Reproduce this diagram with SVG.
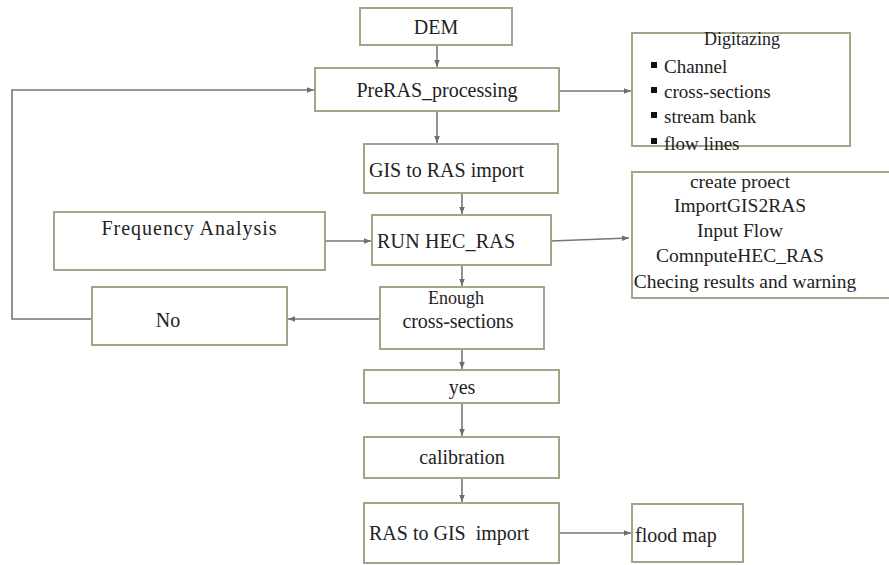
<svg xmlns="http://www.w3.org/2000/svg" width="889" height="565" viewBox="0 0 889 565">
<style>
.box{fill:#ffffff;stroke:#a2a587;stroke-width:2}
.t{font-family:"Liberation Serif","Times New Roman",serif;font-size:20px;fill:#222222}
.c{text-anchor:middle}
.ln{fill:none;stroke:#767676;stroke-width:1.6}
</style>
<defs>
<marker id="ah" viewBox="0 0 10 10" refX="10" refY="5" markerWidth="7" markerHeight="7" orient="auto" markerUnits="userSpaceOnUse">
<path d="M0,1 L10,5 L0,9 Z" fill="#6e6e6e"/>
</marker>
</defs>
<rect width="889" height="565" fill="#ffffff"/>
<g id="connectors">
<line class="ln" x1="437" y1="45" x2="437" y2="67" marker-end="url(#ah)"/>
<line class="ln" x1="437" y1="111" x2="437" y2="143" marker-end="url(#ah)"/>
<line class="ln" x1="559" y1="91" x2="631" y2="91" marker-end="url(#ah)"/>
<line class="ln" x1="462" y1="193" x2="462" y2="214" marker-end="url(#ah)"/>
<line class="ln" x1="325" y1="241" x2="371" y2="241" marker-end="url(#ah)"/>
<line class="ln" x1="551" y1="241" x2="629" y2="238" marker-end="url(#ah)"/>
<line class="ln" x1="462" y1="265" x2="462" y2="286" marker-end="url(#ah)"/>
<line class="ln" x1="380" y1="319" x2="288" y2="319" marker-end="url(#ah)"/>
<polyline class="ln" points="92,319 12,319 12,90 314,90" marker-end="url(#ah)"/>
<line class="ln" x1="462" y1="349" x2="462" y2="369" marker-end="url(#ah)"/>
<line class="ln" x1="462" y1="403" x2="462" y2="436" marker-end="url(#ah)"/>
<line class="ln" x1="462" y1="478" x2="462" y2="502" marker-end="url(#ah)"/>
<line class="ln" x1="559" y1="533" x2="631" y2="533" marker-end="url(#ah)"/>
</g>
<g id="dem">
<rect class="box" x="360" y="8" width="152" height="37"/>
<text class="t c" x="436" y="34">DEM</text>
</g>
<g id="preras">
<rect class="box" x="315" y="68" width="244" height="43"/>
<text class="t c" x="437" y="97">PreRAS_processing</text>
</g>
<g id="digitazing">
<rect class="box" x="632" y="33" width="218" height="113"/>
<text class="t c" x="742" y="45" style="font-size:18px">Digitazing</text>
<rect x="651" y="62" width="6" height="6" fill="#111"/>
<text class="t" x="664" y="73" style="font-size:19px">Channel</text>
<rect x="651" y="87" width="6" height="6" fill="#111"/>
<text class="t" x="664" y="98" style="font-size:19px">cross-sections</text>
<rect x="651" y="112" width="6" height="6" fill="#111"/>
<text class="t" x="664" y="123" style="font-size:19px">stream bank</text>
<rect x="651" y="138" width="6" height="6" fill="#111"/>
<text class="t" x="664" y="150" style="font-size:19px">flow lines</text>
</g>
<g id="gis2ras">
<rect class="box" x="364" y="144" width="194" height="49"/>
<text class="t" x="369" y="177">GIS to RAS import</text>
</g>
<g id="freq">
<rect class="box" x="54" y="212" width="271" height="58"/>
<text class="t c" x="189" y="235" textLength="175">Frequency Analysis</text>
</g>
<g id="runhecras">
<rect class="box" x="372" y="215" width="179" height="50"/>
<text class="t" x="377" y="248" textLength="138">RUN HEC_RAS</text>
</g>
<g id="steps">
<rect class="box" x="632" y="172" width="262" height="126"/>
<text class="t c" x="740" y="188" style="font-size:19.5px">create proect</text>
<text class="t c" x="740" y="212" style="font-size:19.5px">ImportGIS2RAS</text>
<text class="t c" x="740" y="237" style="font-size:19.5px">Input Flow</text>
<text class="t c" x="740" y="262" style="font-size:19.5px">ComnputeHEC_RAS</text>
<text class="t c" x="745" y="288" style="font-size:19.5px">Checing results and warning</text>
</g>
<g id="no">
<rect class="box" x="92" y="287" width="195" height="58"/>
<text class="t c" x="168" y="327">No</text>
</g>
<g id="enough">
<rect class="box" x="380" y="287" width="164" height="62"/>
<text class="t c" x="456" y="304" style="font-size:18px">Enough</text>
<text class="t c" x="458" y="328" textLength="111">cross-sections</text>
</g>
<g id="yes">
<rect class="box" x="364" y="370" width="195" height="33"/>
<text class="t c" x="462" y="394">yes</text>
</g>
<g id="calibration">
<rect class="box" x="364" y="437" width="195" height="41"/>
<text class="t c" x="462" y="464">calibration</text>
</g>
<g id="ras2gis">
<rect class="box" x="364" y="503" width="195" height="60"/>
<text class="t" x="369" y="540" style="white-space:pre">RAS to GIS  import</text>
</g>
<g id="floodmap">
<rect class="box" x="632" y="504" width="111" height="58"/>
<text class="t" x="635" y="542">flood map</text>
</g>
</svg>
